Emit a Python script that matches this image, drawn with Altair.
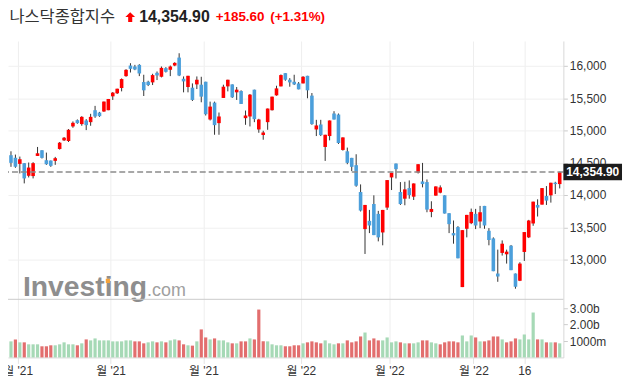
import json
import altair as alt
import pandas as pd

# ---------------- data ----------------
opens = [14616, 14575, 14482, 14493, 14298, 14293, 14605, 14693, 14539, 14534,
         14529, 14713, 14846, 14836, 15062, 15159, 15098, 15154, 15128, 15313,
         15277, 15293, 15313, 15528, 15575, 15657, 15841, 16005, 15990, 16015,
         15749, 15754, 15744, 15892, 15831, 15964, 15939, 16005, 16128, 15800,
         15672, 15662, 15713, 15708, 15754, 15169, 15431, 15113, 15503, 15682,
         15713, 15590, 15610, 15190, 15216, 15631, 15015, 14928, 15128, 15313,
         15543, 15682, 15887, 15785, 15754, 15728, 15728, 15846, 15539, 15015,
         15092, 14744, 14913, 15262, 15246, 14698, 14677, 14575, 14462, 14046,
         13472, 13600, 13861, 13708, 13420, 13805, 14272, 14487, 14046, 13943,
         14107, 13974, 14349, 14210, 14200, 13738, 13990, 14036, 13995, 13718,
         13410, 13503, 12574, 13477, 13564, 13708, 13590, 13831, 13446, 13328,
         12784, 13103, 13082, 13215, 12784, 12672, 13118, 13344, 13559, 13846,
         13851, 13985, 13995, 14190, 14169]
highs = [14677, 14626, 14595, 14493, 14503, 14508, 14744, 14693, 14657, 14534,
         14590, 14821, 14898, 15021, 15139, 15170, 15221, 15175, 15257, 15380,
         15287, 15447, 15487, 15595, 15646, 15805, 15949, 16041, 16015, 16026,
         15862, 15769, 15877, 15913, 15990, 15980, 16005, 16056, 16195, 15836,
         15846, 15728, 15836, 15831, 15754, 15446, 15446, 15277, 15708, 15785,
         15713, 15672, 15621, 15308, 15564, 15631, 15180, 14995, 15339, 15523,
         15692, 15867, 15887, 15810, 15862, 15749, 15841, 15846, 15579, 15164,
         15164, 14933, 15154, 15298, 15262, 14892, 14734, 14575, 14631, 14164,
         13846, 13769, 13995, 13754, 13769, 14231, 14344, 14487, 14200, 14205,
         14226, 14179, 14477, 14497, 14241, 13903, 14133, 14149, 13995, 13718,
         13605, 13518, 13456, 13692, 13790, 13785, 13831, 13831, 13487, 13344,
         13154, 13297, 13154, 13226, 12784, 12959, 13426, 13615, 13897, 13933,
         14107, 14138, 14190, 14205, 14362]
lows = [14436, 14421, 14334, 14180, 14272, 14257, 14605, 14565, 14467, 14436,
        14467, 14703, 14836, 14821, 15041, 15103, 15072, 15005, 15072, 15195,
        15210, 15287, 15313, 15472, 15564, 15605, 15831, 15897, 15933, 15841,
        15533, 15687, 15703, 15780, 15821, 15897, 15841, 15995, 15841, 15590,
        15590, 15456, 15641, 15436, 15231, 15154, 14933, 14933, 15503, 15605,
        15503, 15472, 15410, 15087, 15062, 15128, 14964, 14856, 15010, 15308,
        15538, 15682, 15769, 15677, 15703, 15636, 15728, 15498, 15087, 14913,
        14913, 14528, 14846, 15169, 14790, 14687, 14477, 14370, 14128, 13745,
        13087, 13410, 13379, 13282, 13221, 13769, 14077, 14256, 13846, 13841,
        13943, 13923, 14333, 14118, 13733, 13656, 13990, 14026, 13713, 13410,
        13246, 13020, 12574, 13344, 13549, 13472, 13487, 13477, 13221, 12820,
        12656, 13062, 12938, 12836, 12549, 12667, 12979, 13333, 13523, 13667,
        13851, 13846, 13882, 14015, 14102]
closes = [14498, 14436, 14554, 14257, 14425, 14493, 14646, 14575, 14477, 14452,
          14570, 14810, 14887, 15010, 15118, 15113, 15210, 15082, 15210, 15216,
          15221, 15447, 15487, 15585, 15646, 15795, 15938, 15954, 15944, 15882,
          15621, 15703, 15857, 15851, 15969, 15908, 15990, 16046, 15851, 15759,
          15846, 15472, 15785, 15523, 15251, 15369, 15082, 15216, 15677, 15785,
          15513, 15631, 15410, 15231, 15554, 15175, 15169, 14969, 15339, 15523,
          15651, 15857, 15785, 15744, 15713, 15636, 15831, 15621, 15098, 15077,
          14928, 14933, 15154, 15169, 14805, 14892, 14498, 14436, 14144, 13759,
          13846, 13528, 13379, 13344, 13769, 14231, 14344, 14400, 13861, 14087,
          13999, 14179, 14477, 14169, 13774, 13784, 14133, 14118, 13713, 13549,
          13374, 13020, 13456, 13692, 13738, 13528, 13733, 13528, 13303, 12820,
          12738, 13246, 13123, 12836, 12579, 12938, 13426, 13605, 13897, 13805,
          14107, 13913, 14190, 14169.3, 14354.9]
volumes_b = [0.98, 1.10, 0.92, 0.92, 0.80, 0.80, 0.80, 0.68, 0.68, 0.74,
             0.74, 0.80, 0.92, 0.80, 0.80, 0.74, 0.86, 1.10, 1.04, 1.16,
             1.04, 1.04, 1.04, 0.98, 0.98, 0.98, 1.04, 1.04, 0.98, 0.98,
             0.86, 0.92, 0.98, 0.92, 0.98, 0.92, 1.04, 1.10, 1.04, 0.80,
             0.74, 0.72, 0.98, 1.71, 1.22, 1.10, 1.16, 1.04, 1.04, 0.92,
             0.86, 0.86, 0.98, 0.98, 1.16, 1.10, 2.92, 0.98, 0.98, 0.80,
             0.74, 0.74, 0.68, 0.68, 0.74, 0.74, 0.86, 0.92, 0.98, 0.92,
             0.86, 1.04, 0.86, 0.80, 0.86, 0.86, 1.04, 0.92, 0.98, 1.28,
             1.52, 1.04, 1.16, 1.04, 1.04, 1.22, 0.92, 0.98, 0.92, 0.86,
             0.86, 0.86, 0.92, 1.04, 1.04, 0.92, 0.86, 0.80, 0.92, 0.98,
             0.98, 0.92, 1.34, 0.98, 1.34, 1.22, 0.98, 0.98, 1.04, 1.28,
             1.28, 1.10, 0.92, 0.98, 1.16, 1.10, 1.40, 1.10, 2.74, 1.10,
             1.10, 0.92, 0.92, 0.92, 0.86]

x_tick_idx = [1.5, 22.5, 43.5, 65.5, 85.5, 104.5, 116]
x_tick_labels = ["월 '21", "월 '21", "월 '21", "월 '22", "월 '22", "월 '22", "16"]
price_ticks = [13000, 13500, 14000, 14500, 15000, 15500, 16000]
vol_ticks = [1, 2, 3]
vol_tick_labels = ["1000m", "2.00b", "3.00b"]

title_name = "나스닥종합지수"
title_price = "14,354.90"
title_change = "+185.60"
title_pct = "(+1.31%)"
watermark_main = "Investing"
watermark_tail = ".com"

# ---------------- table ----------------
n = len(closes)
df = pd.DataFrame({
    "i": list(range(n)),
    "open": opens, "high": highs, "low": lows, "close": closes,
    "vol": volumes_b,
})
prev = [None] + closes[:-1]
df["vup"] = [True if p is None else c >= p for c, p in zip(closes, prev)]
last_df = pd.DataFrame({"close": [closes[-1]]})

# ---------------- styling ----------------
W, H = 559, 318.5
X_DOM = [-0.674, 124.83]
P_DOM = [11484.6, 16385.0]
V_DOM = [0, 19.303]
FONT = "Liberation Sans, Arial, Noto Sans CJK KR"
KFONT = "Noto Sans CJK KR"
RED = "#ff0000"
BLUE = "#4b9fdb"
VGREEN = "#a6d9b6"
VRED = "#e26e6e"


def lab_expr(vals, labs):
    e = '""'
    for v, l in reversed(list(zip(vals, labs))):
        e = f"datum.value == {v} ? {json.dumps(l, ensure_ascii=False)} : ({e})"
    return e


x_scale = alt.Scale(domain=X_DOM, nice=False, zero=False, padding=0)
p_scale = alt.Scale(domain=P_DOM, nice=False, zero=False, padding=0)
v_scale = alt.Scale(domain=V_DOM, nice=False, zero=False, padding=0)

x_enc = alt.X(
    "i:Q", scale=x_scale,
    axis=alt.Axis(values=x_tick_idx, labelExpr=lab_expr(x_tick_idx, x_tick_labels),
                  title=None, grid=True, gridColor="#eeeeee", domainColor="#d8d8d8",
                  tickColor="#e4e4e4", tickSize=6, labelFontSize=12, labelColor="#333333",
                  labelFont=FONT, labelPadding=2, labelFlush=False, labelOverlap=False,
                  labelBound=False, zindex=0),
)

p_axis = alt.Axis(orient="right", values=price_ticks, format=",.0f", title=None, grid=True,
                  gridColor="#f0f0f0", domainColor="#d8d8d8", tickColor="#cccccc", tickSize=4,
                  labelFontSize=12, labelColor="#333333", labelFont=FONT, labelPadding=2,
                  zindex=0)
v_axis = alt.Axis(orient="right", values=vol_ticks, labelExpr=lab_expr(vol_ticks, vol_tick_labels),
                  title=None, grid=False, domain=False, tickColor="#cccccc", tickSize=4,
                  labelFontSize=12, labelColor="#333333", labelFont=FONT, labelPadding=2,
                  zindex=0)


def one(v):
    return pd.DataFrame({"t": [v]})


watermark = alt.Chart(one(watermark_main)).mark_text(
    align="left", baseline="alphabetic", font="Liberation Sans", fontWeight="bold",
    fontSize=28.5, color="#8e8e8e").encode(x=alt.value(15), y=alt.value(257), text="t:N")
watermark2 = alt.Chart(one(watermark_tail)).mark_text(
    align="left", baseline="alphabetic", font="Liberation Sans", fontSize=18,
    color="#a0a0a0").encode(x=alt.value(140), y=alt.value(257), text="t:N")
wm_dot = alt.Chart(one("dot")).mark_point(
    shape="square", filled=True, size=18, color="#f5a33a", opacity=1).encode(
    x=alt.value(100.5), y=alt.value(241.5))

separator = alt.Chart(one("sep")).mark_rule(color="#cccccc", strokeWidth=1).encode(
    x=alt.value(0), x2=alt.value(W), y=alt.value(260))

wick = alt.Chart(df).mark_rule(color="#333333", strokeWidth=1).encode(
    x=x_enc, y=alt.Y("low:Q", scale=p_scale, axis=p_axis), y2="high:Q")

body = alt.Chart(df).mark_bar(size=3.6).encode(
    x=x_enc, y=alt.Y("open:Q", scale=p_scale, axis=None), y2="close:Q",
    color=alt.condition("datum.close >= datum.open", alt.value(RED), alt.value(BLUE)))

vol = alt.Chart(df).mark_bar(size=3.2).encode(
    x=x_enc, y=alt.Y("vol:Q", scale=v_scale, axis=v_axis),
    color=alt.condition("datum.vup", alt.value(VGREEN), alt.value(VRED)))

dashed = alt.Chart(last_df).mark_rule(color="#8c8c8c", strokeWidth=1.5, strokeDash=[6, 3]).encode(
    y=alt.Y("close:Q", scale=p_scale, axis=None))

box = alt.Chart(last_df).transform_calculate(
    hi="datum.close + 128", lo="datum.close - 128").mark_rect(color="#1c1c1c").encode(
    x=alt.value(W), x2=alt.value(618), y=alt.Y("hi:Q", scale=p_scale, axis=None), y2="lo:Q")

box_text = alt.Chart(last_df).mark_text(
    color="white", fontWeight="bold", fontSize=12, font=FONT, align="center",
    baseline="middle").encode(
    x=alt.value(588.5), y=alt.Y("close:Q", scale=p_scale, axis=None),
    text=alt.Text("close:Q", format=",.2f"))

h_name = alt.Chart(one(title_name)).mark_text(
    align="left", baseline="middle", font=KFONT, fontSize=16.5, color="#333333").encode(
    x=alt.value(1.5), y=alt.value(-24.5), text="t:N")
h_arrow = alt.Chart(one("arrow")).mark_point(
    shape="M0,-1 L1,-0.05 L0.42,-0.05 L0.42,1 L-0.42,1 L-0.42,-0.05 L-1,-0.05 Z",
    filled=True, size=95, color=RED, opacity=1).encode(x=alt.value(123), y=alt.value(-24))
h_price = alt.Chart(one(title_price)).mark_text(
    align="left", baseline="middle", font=FONT, fontWeight="bold", fontSize=16,
    color="#222222").encode(x=alt.value(132), y=alt.value(-24.5), text="t:N")
h_change = alt.Chart(one(title_change)).mark_text(
    align="left", baseline="middle", font=FONT, fontWeight="bold", fontSize=13.5,
    color=RED).encode(x=alt.value(209), y=alt.value(-24), text="t:N")
h_pct = alt.Chart(one(title_pct)).mark_text(
    align="left", baseline="middle", font=FONT, fontWeight="bold", fontSize=13.5,
    color=RED).encode(x=alt.value(264), y=alt.value(-24), text="t:N")

chart = alt.layer(
    watermark, watermark2, wm_dot, separator, wick, body, vol, dashed, box, box_text,
    h_name, h_arrow, h_price, h_change, h_pct,
).resolve_scale(y="independent").properties(
    width=W, height=H,
    autosize=alt.AutoSizeParams(type="none"),
    padding={"left": 0, "top": 32, "right": 61, "bottom": 21},
    background="white",
).configure_view(stroke=None)

chart.save("out.html", embed_options={"renderer": "svg", "actions": False})
